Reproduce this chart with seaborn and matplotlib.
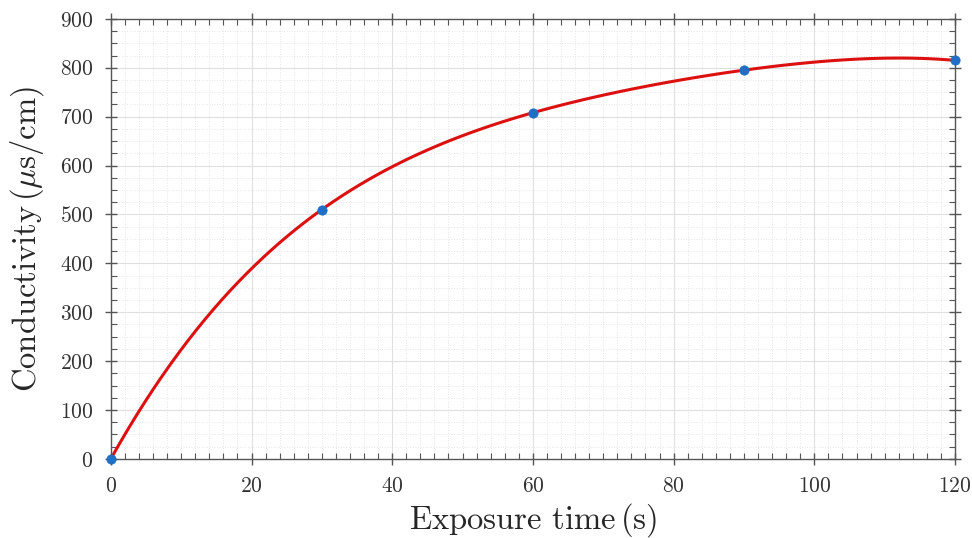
import numpy as np
import pandas as pd
import seaborn as sns
import matplotlib.pyplot as plt
from matplotlib.ticker import MultipleLocator

# Measured points
exposure_time = [0, 30, 60, 90, 120]
conductivity = [0, 510, 708, 795, 815]

x_ticks = [0, 20, 40, 60, 80, 100, 120]
y_ticks = [0, 100, 200, 300, 400, 500, 600, 700, 800, 900]

df = pd.DataFrame({'time': exposure_time, 'cond': conductivity})

sns.set_style('white')
plt.rcParams['font.family'] = 'serif'
plt.rcParams['font.serif'] = ['cmr10', 'DejaVu Serif']
plt.rcParams['mathtext.fontset'] = 'cm'
plt.rcParams['axes.formatter.use_mathtext'] = True

fig = plt.figure(figsize=(9.72, 5.38), dpi=100)
ax = fig.add_axes([0.114, 0.147, 0.8685, 0.818])

# Smooth fitted curve through the measurements
sns.regplot(data=df, x='time', y='cond', order=4, ci=None, scatter=False,
            line_kws={'color': '#dd1010', 'lw': 2.2}, ax=ax)
# Measured points
sns.scatterplot(data=df, x='time', y='cond', color='#1f6fc4', s=45,
                edgecolor='#1f6fc4', zorder=5, clip_on=False, ax=ax)

ax.set_xlim(0, 120)
ax.set_ylim(0, 900)
ax.set_xticks(x_ticks)
ax.set_yticks(y_ticks)
ax.xaxis.set_minor_locator(MultipleLocator(2))
ax.yaxis.set_minor_locator(MultipleLocator(25))

# Grid: solid majors, dotted minors
ax.grid(which='major', color='#e0e0e0', lw=0.8, ls='-')
ax.grid(which='minor', color='#e6e6e6', lw=0.7, ls=':')
ax.set_axisbelow(True)

for s in ax.spines.values():
    s.set_visible(True)
    s.set_color('#555555')
    s.set_linewidth(1.0)

ax.tick_params(which='major', direction='inout', length=9, width=1.0,
               color='#555555', labelsize=15.5, labelcolor='#333333',
               top=True, right=True, bottom=True, left=True, pad=8)
ax.tick_params(which='minor', direction='in', length=4, width=0.8,
               color='#555555', top=True, right=True, bottom=True, left=True)

ax.set_xlabel(r'Exposure time$\,$(s)', fontsize=23.5, labelpad=4)
ax.set_ylabel(r'Conductivity$\,(\mu\mathrm{s/cm})$', fontsize=23.5, labelpad=10)

plt.savefig('out.png', dpi=100)
